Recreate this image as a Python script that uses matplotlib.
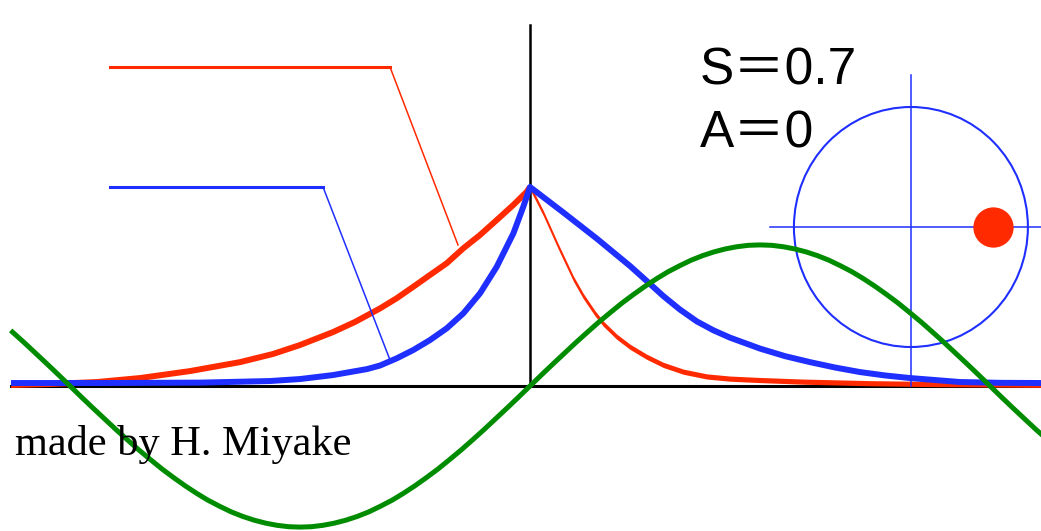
import numpy as np
import matplotlib.pyplot as plt
from matplotlib.patches import Ellipse

# wave profiles, x in units of 92 px, height normalised to the peak
red_left_x = [-5.641, -5.217, -4.707, -4.239, -3.696, -3.152, -2.793, -2.5, -2.141, -1.902,
              -1.630, -1.449, -1.268, -1.087, -0.905, -0.725, -0.543, -0.362, -0.181, -0.036, 0.0]
red_left_y = [0.005, 0.01, 0.02, 0.04, 0.075, 0.12, 0.161, 0.206, 0.271, 0.322,
              0.390, 0.441, 0.499, 0.558, 0.617, 0.692, 0.759, 0.834, 0.910, 0.976, 1.0]
red_right_x = [0.0, 0.145, 0.308, 0.471, 0.579, 0.707, 0.797, 0.942, 1.087, 1.268, 1.449,
               1.666, 1.921, 2.174, 2.5, 2.97, 3.70, 4.35, 5.554]
red_right_y = [1.0, 0.868, 0.700, 0.540, 0.452, 0.365, 0.313, 0.248, 0.197, 0.147, 0.106,
               0.072, 0.048, 0.037, 0.030, 0.022, 0.014, 0.01, 0.006]

blue_x = [-5.641, -4.674, -3.587, -2.826, -2.5, -2.141, -1.957, -1.772, -1.630, -1.449, -1.268,
          -1.087, -0.905, -0.725, -0.543, -0.362, -0.181, -0.073, 0.0,
          0.362, 0.725, 1.087, 1.268, 1.449, 1.630, 1.812, 1.993, 2.174, 2.5, 2.772, 3.043,
          3.315, 3.587, 3.859, 4.130, 4.402, 4.674, 5.109, 5.554]
blue_y = [0.015, 0.015, 0.017, 0.025, 0.035, 0.055, 0.07, 0.085, 0.103, 0.139, 0.181,
          0.231, 0.290, 0.365, 0.466, 0.599, 0.767, 0.901, 1.0,
          0.872, 0.741, 0.603, 0.528, 0.452, 0.384, 0.325, 0.280, 0.243, 0.188, 0.150, 0.12,
          0.093, 0.07, 0.053, 0.04, 0.03, 0.02, 0.016, 0.015]

green_x = list(np.arange(-45, 45) * 0.125) + [5.554]
green_y = [0.271, 0.219, 0.165, 0.111, 0.056, 0.0,
           -0.056, -0.111, -0.165, -0.219, -0.271, -0.322, -0.370, -0.417, -0.460, -0.501,
           -0.539, -0.574, -0.604, -0.632, -0.655, -0.674, -0.689, -0.700, -0.707, -0.709,
           -0.707, -0.700, -0.689, -0.674, -0.655, -0.632, -0.604, -0.574, -0.539, -0.501,
           -0.460, -0.417, -0.370, -0.322, -0.271, -0.219, -0.165, -0.111, -0.056, 0.0,
           0.056, 0.111, 0.165, 0.219, 0.271, 0.322, 0.370, 0.417, 0.460, 0.501,
           0.539, 0.574, 0.604, 0.632, 0.655, 0.674, 0.689, 0.700, 0.707, 0.709,
           0.707, 0.700, 0.689, 0.674, 0.655, 0.632, 0.604, 0.574, 0.539, 0.501,
           0.460, 0.417, 0.370, 0.322, 0.271, 0.219, 0.165, 0.111, 0.056, 0.0,
           -0.056, -0.111, -0.165, -0.219, -0.241]

# leader lines
red_lead_x = [-4.565, -1.522, -0.783]
red_lead_y = [1.603, 1.603, 0.709]
blue_lead_x = [-4.565, -2.25, -1.522]
blue_lead_y = [1.0, 1.0, 0.131]

S = 0.7
A = 0
circ_cx, circ_cy = 4.14, 0.799
circ_w, circ_h = 2.543, 1.206

RED = '#ff2a00'
BLUE = '#1f2fff'
GREEN = '#008c00'

fig = plt.figure(figsize=(10.41, 5.31), dpi=100)
ax = fig.add_axes([0, 0, 1, 1])
ax.axis('off')
ax.set_xlim(-5.761, 5.554)
ax.set_ylim(-0.7286, 1.9397)

# axes
ax.plot([-5.64, 5.554], [0, 0], color='black', lw=2.2, zorder=1)
ax.plot([0, 0], [0, 1.814], color='black', lw=1.8, zorder=1)

# red: left side as a line, right side with constant vertical thickness
ax.plot(red_left_x, red_left_y, color=RED, lw=4.3, solid_capstyle='butt', solid_joinstyle='round', zorder=2)
rx = np.array(red_right_x)
ry = np.array(red_right_y)
ax.fill_between(rx, ry - 0.013, ry + 0.013, color=RED, lw=0, zorder=2)

ax.plot(blue_x, blue_y, color=BLUE, lw=4.3, solid_capstyle='butt', solid_joinstyle='round', zorder=3)

ax.plot(red_lead_x[:2], red_lead_y[:2], color=RED, lw=2.2, zorder=2)
ax.plot(red_lead_x[1:], red_lead_y[1:], color=RED, lw=1.1, zorder=2)
ax.plot(blue_lead_x[:2], blue_lead_y[:2], color=BLUE, lw=2.2, zorder=3)
ax.plot(blue_lead_x[1:], blue_lead_y[1:], color=BLUE, lw=1.1, zorder=3)

# phase circle
ax.add_patch(Ellipse((circ_cx, circ_cy), circ_w, circ_h, fill=False, edgecolor=BLUE, lw=1.5, zorder=3))
ax.plot([2.61, 5.554], [circ_cy, circ_cy], color=BLUE, lw=1.1, zorder=3)
ax.plot([circ_cx, circ_cx], [0, 1.563], color=BLUE, lw=1.1, zorder=3)
ax.plot([circ_cx + S * circ_w / 2], [circ_cy], 'o', color=RED, ms=29, mec='none', zorder=5)

ax.plot(green_x, green_y, color=GREEN, lw=3.6, solid_joinstyle='round', zorder=4)

ax.text(1.848, 1.513, 'S＝%.1f' % S, fontsize=37, family=['Liberation Sans', 'Noto Sans CJK JP'],
        va='baseline', ha='left', zorder=6)
ax.text(1.848, 1.196, 'A＝%d' % A, fontsize=37, family=['Liberation Sans', 'Noto Sans CJK JP'],
        va='baseline', ha='left', zorder=6)
ax.text(-5.598, -0.347, 'made by H. Miyake', fontsize=30.5, family='Liberation Serif',
        va='baseline', ha='left', zorder=6)

fig.savefig('out.png', dpi=100)
